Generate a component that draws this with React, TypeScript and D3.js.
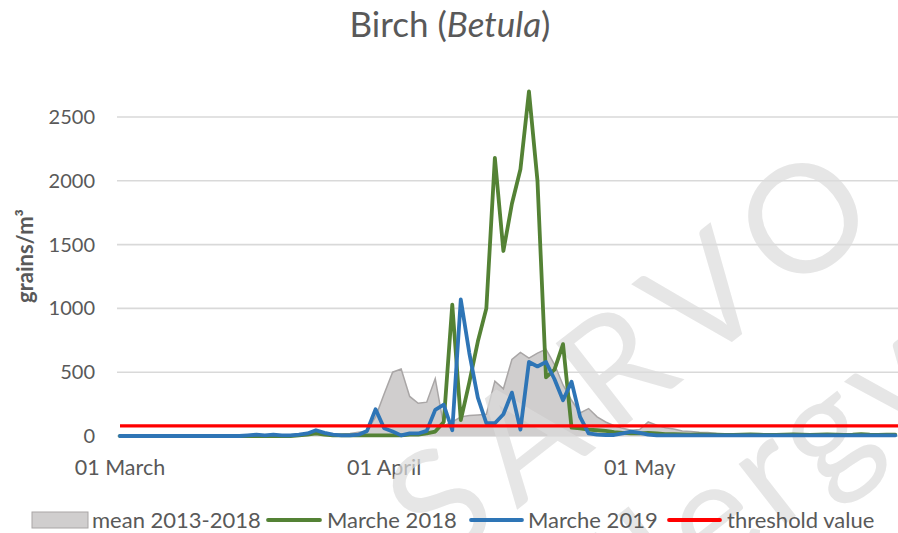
import React from "react";
import * as d3 from "d3";

const W = 898;
const H = 533;

// Daily values, 01 March (index 0) .. 31 May (index 91)
const mean2013_2018: number[] = [
  0, 0, 0, 0, 0, 0, 0, 0, 0, 0,
  0, 0, 0, 0, 0, 0, 0, 0, 2, 5,
  5, 8, 10, 15, 10, 10, 15, 20, 30, 40,
  150, 330, 500, 525, 310, 256, 265, 450, 80, 110,
  150, 160, 165, 170, 430, 370, 600, 655, 610, 650,
  680, 560, 400, 280, 180, 215, 150, 110, 80, 60,
  45, 50, 110, 85, 65, 55, 40, 35, 30, 28,
  20, 15, 12, 10, 10, 8, 8, 6, 6, 5,
  5, 5, 4, 4, 4, 3, 3, 3, 3, 3, 3, 3,
];

const marche2018: number[] = [
  0, 0, 0, 0, 0, 0, 0, 0, 0, 0,
  0, 0, 0, 0, 0, 0, 0, 0, 0, 0,
  0, 5, 10, 20, 10, 5, 5, 5, 5, 5,
  5, 5, 5, 5, 10, 10, 20, 35, 110, 1030,
  125, 420, 740, 1000, 2180, 1450, 1820, 2090, 2700, 2000,
  460, 520, 720, 65, 60, 50, 45, 40, 30, 25,
  20, 20, 25, 20, 15, 15, 12, 10, 12, 10,
  10, 8, 8, 10, 12, 10, 8, 8, 10, 12,
  10, 8, 10, 12, 10, 8, 10, 15, 10, 8, 10, 10,
];

const marche2019: number[] = [
  0, 0, 0, 0, 0, 0, 0, 0, 0, 0,
  0, 0, 0, 0, 0, 5, 10, 5, 10, 5,
  5, 10, 20, 45, 25, 10, 5, 5, 10, 40,
  210, 60, 35, 5, 20, 20, 40, 205, 245, 45,
  1070, 650, 300, 100, 100, 170, 340, 50, 580, 545,
  580, 445, 280, 425, 150, 20, 10, 8, 8, 20,
  35, 25, 10, 5, 5, 5, 5, 5, 5, 5,
  5, 5, 5, 5, 5, 5, 5, 5, 5, 5,
  5, 5, 5, 5, 5, 5, 5, 5, 5, 5, 5, 5,
];

const thresholdValue = 80;

const yTicks: number[] = [0, 500, 1000, 1500, 2000, 2500];
const xTickIdx: number[] = [0, 31, 61];
const xTickLabels: string[] = ["01 March", "01 April", "01 May"];

const legendLabels: string[] = [
  "mean 2013-2018",
  "Marche 2018",
  "Marche 2019",
  "threshold value",
];

const FONT = "Lato, 'Open Sans', sans-serif";
const TXT = "#595959";

export default function App() {
  const x = d3.scaleLinear().domain([0, 91]).range([120, 895.3]);
  const y = d3.scaleLinear().domain([0, 2500]).range([436, 117]);

  const idx = d3.range(mean2013_2018.length);

  const area = d3
    .area<number>()
    .x((i) => x(i))
    .y0(y(0))
    .y1((i) => y(mean2013_2018[i]));
  const meanLine = d3
    .line<number>()
    .x((i) => x(i))
    .y((i) => y(mean2013_2018[i]));
  const line18 = d3
    .line<number>()
    .x((i) => x(i))
    .y((i) => y(marche2018[i]));
  const line19 = d3
    .line<number>()
    .x((i) => x(i))
    .y((i) => y(marche2019[i]));

  const gridX0 = 117;
  const gridX1 = 898;

  return (
    <svg
      width={W}
      height={H}
      style={{ position: "absolute", left: 0, top: 0, background: "#fff" }}
      fontFamily={FONT}
    >
      <rect x={0} y={0} width={W} height={H} fill="#fff" />
      {/* title */}
      <text x={450} y={37} textAnchor="middle" fontSize={35} fill={TXT}>
        Birch (<tspan fontStyle="italic">Betula</tspan>)
      </text>

      {/* grid */}
      {yTicks.map((t) => (
        <line
          key={t}
          x1={gridX0}
          x2={gridX1}
          y1={y(t)}
          y2={y(t)}
          stroke="#d9d9d9"
          strokeWidth={1.6}
        />
      ))}
      {yTicks.map((t) => (
        <text
          key={"l" + t}
          x={95}
          y={y(t) + 7}
          textAnchor="end"
          fontSize={20}
          fill={TXT}
        >
          {t}
        </text>
      ))}
      <text
        transform={`translate(33,256) rotate(-90)`}
        textAnchor="middle"
        fontSize={22}
        fontWeight={700}
        fill={TXT}
      >
        grains/m³
      </text>

      {xTickIdx.map((d, k) => (
        <text
          key={"x" + d}
          x={x(d)}
          y={475}
          textAnchor="middle"
          fontSize={21.5}
          fill={TXT}
        >
          {xTickLabels[k]}
        </text>
      ))}

      {/* mean area */}
      <path d={area(idx) || ""} fill="#d0cece" />
      <path d={meanLine(idx) || ""} fill="none" stroke="#a9a6a6" strokeWidth={1.5} />

      {/* watermark */}
      <g opacity={0.7} fill="#dcdcdc" fontFamily={FONT}>
        <text
          transform="translate(440,570) rotate(-38)"
          fontSize={150}
          letterSpacing={18}
        >
          SARVO
        </text>
        <text
          transform="translate(560,700) rotate(-38)"
          fontSize={150}
          letterSpacing={6}
        >
          Allergy
        </text>
      </g>

      <path
        d={line18(idx) || ""}
        fill="none"
        stroke="#548235"
        strokeWidth={3.8}
        strokeLinejoin="round"
        strokeLinecap="round"
      />
      <path
        d={line19(idx) || ""}
        fill="none"
        stroke="#2e75b6"
        strokeWidth={3.8}
        strokeLinejoin="round"
        strokeLinecap="round"
      />
      <line
        x1={x(0)}
        x2={gridX1}
        y1={y(thresholdValue)}
        y2={y(thresholdValue)}
        stroke="#ff0000"
        strokeWidth={3.2}
      />

      {/* legend */}
      <g fontSize={22} fill={TXT}>
        <rect x={32} y={512} width={56} height={16} fill="#d0cece" stroke="#a9a6a6" strokeWidth={1} />
        <text x={92} y={528}>{legendLabels[0]}</text>
        <line x1={268} x2={320} y1={520} y2={520} stroke="#548235" strokeWidth={3.8} strokeLinecap="round" />
        <text x={327} y={528}>{legendLabels[1]}</text>
        <line x1={471} x2={522} y1={520} y2={520} stroke="#2e75b6" strokeWidth={3.8} strokeLinecap="round" />
        <text x={528} y={528}>{legendLabels[2]}</text>
        <line x1={669} x2={720} y1={520} y2={520} stroke="#ff0000" strokeWidth={3.8} strokeLinecap="round" />
        <text x={727} y={528}>{legendLabels[3]}</text>
      </g>
    </svg>
  );
}
